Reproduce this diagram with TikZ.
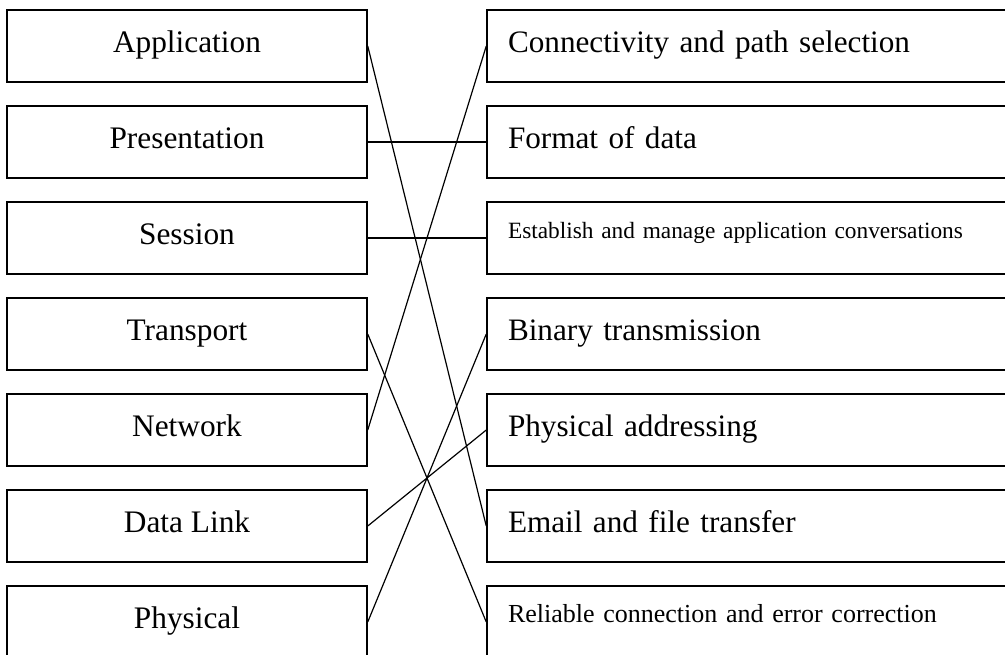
\documentclass[tikz,border=0pt]{standalone}
\usepackage{fontspec}
\setmainfont{Liberation Serif}
\tikzset{
  layer/.style={draw,line width=1.1pt,rectangle,inner sep=0pt,minimum width=270pt,
    text height=31.5pt,text depth=22.5pt,font=\fontsize{23.5}{28}\selectfont},
  duty/.style={draw,line width=1.1pt,rectangle,inner ysep=0pt,inner xsep=15.75pt,
    text width=372pt,align=left,text height=31.5pt,text depth=22.5pt,
    font=\fontsize{23.4}{28}\selectfont},
  smallduty/.style={duty,text height=27pt,text depth=27pt},
  link/.style={line width=0.9pt}
}
\begin{document}
\begin{tikzpicture}[x=0.75pt,y=-0.75pt]
  \useasboundingbox (0,0) rectangle (1005,654);
  % layers
  \node[layer] (app)  at (187,46)  {Application};
  \node[layer] (pres) at (187,142) {Presentation};
  \node[layer] (sess) at (187,238) {Session};
  \node[layer] (trans) at (187,334) {Transport};
  \node[layer] (net)  at (187,430) {Network};
  \node[layer] (dl)   at (187,526) {Data Link};
  \node[layer] (phys) at (187,622) {Physical};
  % what they do
  \node[duty] (conn)  at (756,46)  {Connectivity and path selection};
  \node[duty] (fmt)   at (756,142) {Format of data};
  \node[smallduty,font=\fontsize{17.5}{20}\selectfont] (estab) at (756,238) {Establish and manage application conversations};
  \node[smallduty,font=\fontsize{19.5}{22}\selectfont] (rel) at (756,622) {Reliable connection and error correction};
  \node[duty] (bin)   at (756,334) {Binary transmission};
  \node[duty] (addr)  at (756,430) {Physical addressing};
  \node[duty] (mail)  at (756,526) {Email and file transfer};
  % matching
  \draw[link] (app.east) -- (mail.west);
  \draw[link] (pres.east) -- (fmt.west);
  \draw[link] (sess.east) -- (estab.west);
  \draw[link] (trans.east) -- (rel.west);
  \draw[link] (net.east) -- (conn.west);
  \draw[link] (dl.east) -- (addr.west);
  \draw[link] (phys.east) -- (bin.west);
\end{tikzpicture}
\end{document}
